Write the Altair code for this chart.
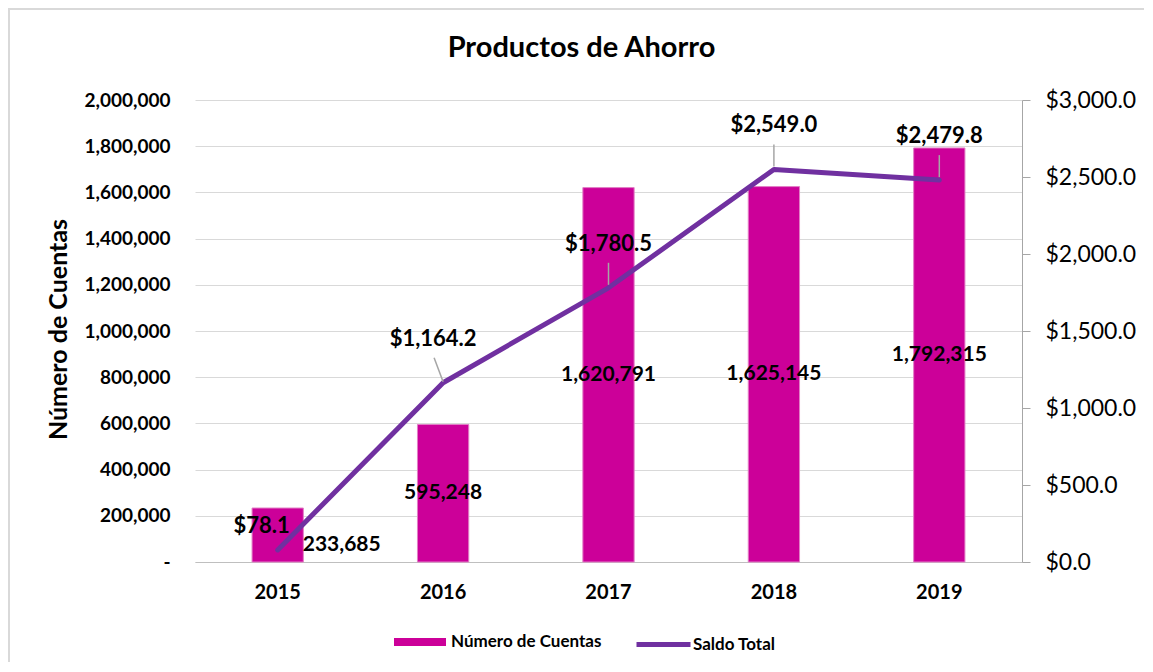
import altair as alt
import pandas as pd

years = ["2015", "2016", "2017", "2018", "2019"]
cuentas = [233685, 595248, 1620791, 1625145, 1792315]
saldo = [78.1, 1164.2, 1780.5, 2549.0, 2479.8]
left_ticks = [0, 200000, 400000, 600000, 800000, 1000000, 1200000, 1400000, 1600000, 1800000, 2000000]
right_ticks = [0, 500, 1000, 1500, 2000, 2500, 3000]

df = pd.DataFrame({"anio": years, "Cuentas": cuentas, "Saldo": saldo})

FONT = "Lato"
BAR = "#CC0099"
LINE = "#7030A0"
LEAD = "#a6a6a6"
FRAME = "#d9d9d9"

x_axis = alt.Axis(title=None, labelAngle=0, labelFontSize=20, labelFontWeight="bold",
                  labelPadding=20, ticks=False, domainColor="#bfbfbf", labelColor="#000000",
                  labelFont=FONT)
x_scale = alt.Scale(paddingInner=0.69, paddingOuter=0.345)
x_enc = alt.X("anio:N", scale=x_scale, axis=x_axis, sort=years)

yL_scale = alt.Scale(domain=[0, 2000000])
yR_scale = alt.Scale(domain=[0, 3000])

left_axis = alt.Axis(
    values=left_ticks, title="Número de Cuentas",
    labelExpr="datum.value == 0 ? '-' : format(datum.value, ',')",
    grid=True, gridColor="#d9d9d9", domain=False, ticks=False,
    labelFontSize=19, labelFontWeight="bold", labelPadding=25, labelColor="#000000",
    labelFont=FONT, titleFont=FONT,
    titleFontSize=25, titleFontWeight="bold", titleColor="#000000",
    titleX=-137, titleY=229, titleAngle=270, titleAlign="center", titleBaseline="middle")

right_axis = alt.Axis(
    orient="right", values=right_ticks, title=None, grid=False,
    labelExpr="'$' + format(datum.value, ',.1f')",
    domain=True, domainColor=LEAD, ticks=True, tickColor=LEAD, tickSize=8,
    labelPadding=15, labelFontSize=23, labelFontWeight="normal", labelColor="#000000",
    labelFont=FONT)

base = alt.Chart(df)
one = alt.Chart(pd.DataFrame({"k": [0]}))

frame_top = one.mark_rule(color=FRAME, strokeWidth=2).encode(
    x=alt.value(-188), x2=alt.value(949), y=alt.value(-91)
)
frame_left = one.mark_rule(color=FRAME, strokeWidth=2).encode(
    x=alt.value(-186), y=alt.value(-92), y2=alt.value(563)
)

bars = base.transform_calculate(serie="'Número de Cuentas'").mark_bar(
    stroke="#e27fc6", strokeWidth=1
).encode(
    x=x_enc,
    y=alt.Y("Cuentas:Q", scale=yL_scale, axis=left_axis),
    fill=alt.Fill("serie:N", scale=alt.Scale(domain=["Número de Cuentas"], range=[BAR]),
                  legend=alt.Legend(orient="none", legendX=199, legendY=516, title=None,
                                    direction="horizontal",
                                    symbolType="M-1,-0.15H1V0.15H-1Z", symbolSize=2704,
                                    symbolStrokeWidth=0,
                                    labelFontSize=17, labelFontWeight="bold", labelColor="#000000",
                                    labelFont=FONT, padding=0, labelOffset=5)),
)

bar_lbl = base.transform_calculate(mid="datum.Cuentas / 2").transform_filter(
    "datum.anio != '2015'"
).mark_text(fontSize=21, fontWeight="bold", font=FONT, color="#000000").encode(
    x=x_enc,
    y=alt.Y("mid:Q", scale=yL_scale, axis=None),
    text=alt.Text("Cuentas:Q", format=","),
)
bar_lbl15 = base.transform_calculate(mid="datum.Cuentas / 2").transform_filter(
    "datum.anio == '2015'"
).mark_text(fontSize=21, fontWeight="bold", font=FONT, color="#000000", dx=64, dy=10).encode(
    x=x_enc,
    y=alt.Y("mid:Q", scale=yL_scale, axis=None),
    text=alt.Text("Cuentas:Q", format=","),
)

line = base.transform_calculate(serie2="'Saldo Total'").mark_line(
    strokeWidth=5, strokeCap="round", strokeJoin="round"
).encode(
    x=x_enc,
    y=alt.Y("Saldo:Q", scale=yR_scale, axis=right_axis),
    stroke=alt.Stroke("serie2:N", scale=alt.Scale(domain=["Saldo Total"], range=[LINE]),
                      legend=alt.Legend(orient="none", legendX=439, legendY=515, title=None,
                                        direction="horizontal", symbolType="stroke",
                                        symbolSize=2916, symbolStrokeWidth=5,
                                        labelFontSize=17, labelFontWeight="bold",
                                        labelColor="#000000", labelFont=FONT,
                                        padding=0, labelOffset=0)),
)

leaders = base.transform_filter("datum.anio != '2015' && datum.anio != '2016'").mark_rule(
    color=LEAD, strokeWidth=1.5, yOffset=-3, y2Offset=-25
).encode(
    x=x_enc,
    y=alt.Y("Saldo:Q", scale=yR_scale, axis=None),
    y2=alt.Y2("Saldo"),
)
leader16 = base.transform_filter("datum.anio == '2016'").mark_rule(
    color=LEAD, strokeWidth=1.5, yOffset=-1, y2Offset=-25, x2Offset=-9
).encode(
    x=x_enc,
    x2=alt.X2("anio"),
    y=alt.Y("Saldo:Q", scale=yR_scale, axis=None),
    y2=alt.Y2("Saldo"),
)

line_lbl = base.transform_filter("datum.anio != '2015' && datum.anio != '2016'").mark_text(
    fontSize=22, fontWeight="bold", font=FONT, color="#000000", dy=-44
).encode(
    x=x_enc,
    y=alt.Y("Saldo:Q", scale=yR_scale, axis=None),
    text=alt.Text("Saldo:Q", format="$,.1f"),
)
line_lbl16 = base.transform_filter("datum.anio == '2016'").mark_text(
    fontSize=22, fontWeight="bold", font=FONT, color="#000000", dy=-44, dx=-10
).encode(
    x=x_enc,
    y=alt.Y("Saldo:Q", scale=yR_scale, axis=None),
    text=alt.Text("Saldo:Q", format="$,.1f"),
)
line_lbl15 = base.transform_filter("datum.anio == '2015'").mark_text(
    fontSize=22, fontWeight="bold", font=FONT, color="#000000", dy=-24, dx=-16
).encode(
    x=x_enc,
    y=alt.Y("Saldo:Q", scale=yR_scale, axis=None),
    text=alt.Text("Saldo:Q", format="$,.1f"),
)

chart = alt.layer(
    frame_top, frame_left, bars, bar_lbl, bar_lbl15, line, leaders, leader16,
    line_lbl, line_lbl16, line_lbl15
).resolve_scale(
    y="independent", fill="independent", stroke="independent"
).properties(
    width=827, height=462,
    padding={"left": 187, "top": 92, "right": 123, "bottom": 100},
    autosize=alt.AutoSizeParams(type="none"),
    title=alt.Title("Productos de Ahorro", fontSize=29, font=FONT, fontWeight="bold",
                    anchor="middle", dx=-27, offset=-56, color="#000000"),
).configure_view(stroke=None)

chart.save("out.html", embed_options={"renderer": "svg", "actions": False})
